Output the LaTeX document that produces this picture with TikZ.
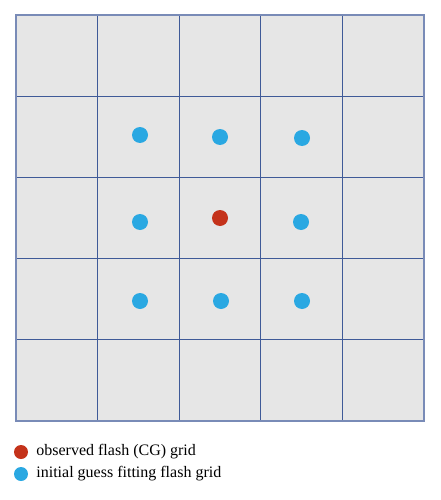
\documentclass[tikz,border=0pt]{standalone}
\usepackage{fontspec}
\setmainfont{Liberation Serif}
\usetikzlibrary{positioning}
\definecolor{gridc}{HTML}{3F5A98}
\definecolor{cellbg}{HTML}{E6E6E6}
\definecolor{obsc}{HTML}{C4321A}
\definecolor{guessc}{HTML}{2AA8E2}
\tikzset{
  dot/.style={circle,inner sep=0pt,minimum size=16pt},
  legdot/.style={circle,inner sep=0pt,minimum size=14pt},
  lbl/.style={anchor=west,inner sep=0pt,font=\fontsize{16}{18}\selectfont}
}
\begin{document}
\begin{tikzpicture}[x=1pt,y=-1pt]
\useasboundingbox (0,0) rectangle (441,500);
\fill[cellbg] (16,15) rectangle (424,421);
\foreach \i in {1,...,4}{\draw[gridc,line width=1.1pt] (16+81.6*\i,15)--(16+81.6*\i,421);}
\foreach \j in {1,...,4}{\draw[gridc,line width=1.1pt] (16,15+81.2*\j)--(424,15+81.2*\j);}
\draw[gridc!70,line width=1.8pt] (16,15) rectangle (424,421);
% fitting grid points
\node[dot,fill=guessc] (g11) at (140,135) {};
\node[dot,fill=guessc] (g12) at (220,137) {};
\node[dot,fill=guessc] (g13) at (302,138) {};
\node[dot,fill=guessc] (g21) at (140,222) {};
\node[dot,fill=obsc]   (obs) at (220,218) {};
\node[dot,fill=guessc] (g23) at (301,222) {};
\node[dot,fill=guessc] (g31) at (140,301) {};
\node[dot,fill=guessc] (g32) at (221,301) {};
\node[dot,fill=guessc] (g33) at (302,301) {};
% legend
\node[legdot,fill=obsc] (lobs) at (21,452) {};
\node[lbl,right=8pt of lobs] (tobs) {observed flash (CG) grid};
\node[legdot,fill=guessc] (lgue) at (21,474) {};
\node[lbl,right=8pt of lgue] (tgue) {initial guess fitting flash grid};
\end{tikzpicture}
\end{document}
